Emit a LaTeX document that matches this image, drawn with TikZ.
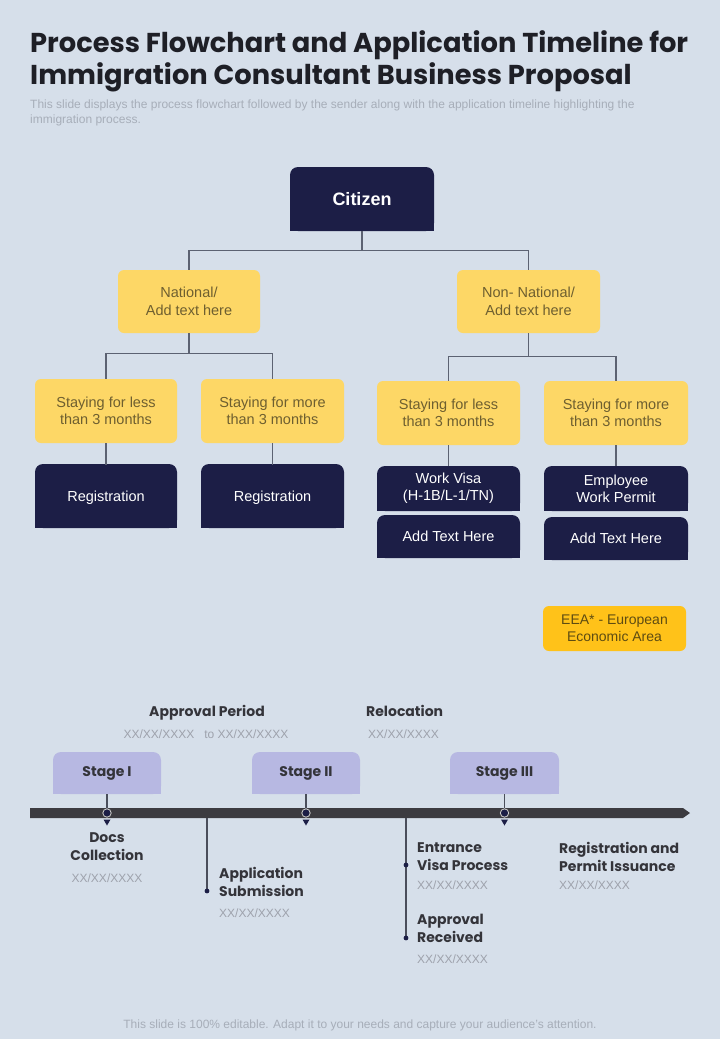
\documentclass[tikz,border=0pt]{standalone}
\usepackage{fontspec}
\setmainfont{Liberation Sans}
\newfontfamily\pop{Poppins}
\definecolor{bgc}{HTML}{D6DFEA}
\definecolor{navy}{HTML}{1C1E46}
\definecolor{yel}{HTML}{FDD766}
\definecolor{ytext}{HTML}{6E5F30}
\definecolor{eeac}{HTML}{FFC219}
\definecolor{eeatext}{HTML}{5E4C12}
\definecolor{lav}{HTML}{B7B8E2}
\definecolor{barc}{HTML}{3C3B40}
\definecolor{connc}{HTML}{5C6272}
\definecolor{titlec}{HTML}{1E1F26}
\definecolor{subc}{HTML}{A7AEB9}
\definecolor{datec}{HTML}{9EA2AC}
\definecolor{tlc}{HTML}{34343A}
\newcommand\topbox[8]{%
  \fill[#2, rounded corners=8pt] (#3,#4) rectangle (#5,#6);
  \fill[#2] (#3,{(#4+#6)/2}) rectangle (#5,#6);
  \pgfmathsetmacro\bw{#5-#3}\pgfmathsetmacro\bh{#6-#4}
  \node[#8, minimum width=\bw pt, minimum height=\bh pt, inner sep=0pt] (#1) at ({(#3+#5)/2},{(#4+#6)/2}) {#7};}
\newcommand\rbox[8]{%
  \pgfmathsetmacro\bw{#5-#3}\pgfmathsetmacro\bh{#6-#4}
  \node[#8, fill=#2, rounded corners=6pt, minimum width=\bw pt, minimum height=\bh pt, inner sep=0pt] (#1) at ({(#3+#5)/2},{(#4+#6)/2}) {#7};}
\tikzset{
  ytxt/.style={text=ytext, font=\fontsize{14.5}{17.5}\selectfont, align=center},
  etxt/.style={text=eeatext, font=\fontsize{14}{17}\selectfont, align=center},
  wtxt/.style={text=white, font=\fontsize{14.5}{17}\selectfont, align=center},
  ctxt/.style={text=white, font=\bfseries\fontsize{18}{20}\selectfont, align=center},
  stg/.style={text=tlc, font=\pop\bfseries\fontsize{14}{17}\selectfont},
  conn/.style={draw=connc, line width=1.3pt},
  tline/.style={draw=connc!80!black, line width=1.3pt},
  tl/.style={text=tlc, font=\pop\bfseries\fontsize{14}{18}\selectfont, inner sep=0pt},
  dt/.style={text=datec, font=\fontsize{12}{14}\selectfont, inner sep=0pt},
}
\begin{document}
\begin{tikzpicture}[x=1pt,y=-1pt]
\fill[bgc] (0,0) rectangle (720,1039);
\useasboundingbox (0,0) rectangle (720,1039);
% title
\node[anchor=base west, inner sep=0pt, text=titlec, font=\pop\bfseries\fontsize{27.3}{30}\selectfont] (t1) at (30,52) {Process Flowchart and Application Timeline for};
\node[anchor=base west, inner sep=0pt, text=titlec, font=\pop\bfseries\fontsize{27.3}{30}\selectfont] (t2) at (30,84) {Immigration Consultant Business Proposal};
\node[anchor=north west, inner sep=0pt, align=left, text=subc, font=\fontsize{12}{14.5}\selectfont] (sub) at (30,100) {This slide displays the process flowchart followed by the sender along with the application timeline highlighting the\\immigration process.};
% chart
\topbox{cit}{navy}{290}{167}{434}{231}{Citizen}{ctxt}
\rbox{nat}{yel}{118}{270}{260}{333}{National/\\Add text here}{ytxt}
\rbox{non}{yel}{457}{270}{600}{333}{Non- National/\\Add text here}{ytxt}
\rbox{s1}{yel}{35}{379}{177}{443}{Staying for less\\than 3 months}{ytxt}
\rbox{s2}{yel}{201}{379}{344}{443}{Staying for more\\than 3 months}{ytxt}
\rbox{s3}{yel}{377}{381}{520}{445}{Staying for less\\than 3 months}{ytxt}
\rbox{s4}{yel}{544}{381}{688}{445}{Staying for more\\than 3 months}{ytxt}
\topbox{r1}{navy}{35}{464}{177}{528}{Registration}{wtxt, yshift=-1.5pt}
\topbox{r2}{navy}{201}{464}{344}{528}{Registration}{wtxt, yshift=-1.5pt}
\topbox{wv}{navy}{377}{466}{520}{511}{Work Visa\\(H-1B/L-1/TN)}{wtxt}
\topbox{a1}{navy}{377}{515}{520}{558}{Add Text Here}{wtxt}
\topbox{ew}{navy}{544}{466}{688}{511}{Employee\\Work Permit}{wtxt}
\topbox{a2}{navy}{544}{517}{688}{560}{Add Text Here}{wtxt}
\rbox{eea}{eeac}{543}{606}{686}{651}{EEA* - European\\Economic Area}{etxt}
\draw[conn] (cit.south) -- ++(0,19) coordinate (j1);
\draw[conn] (j1) -| (nat.north);
\draw[conn] (j1) -| (non.north);
\draw[conn] (nat.south) -- ++(0,20) coordinate (j2);
\draw[conn] (j2) -| (s1.north);
\draw[conn] (j2) -| (s2.north);
\draw[conn] (non.south) -- ++(0,23) coordinate (j3);
\draw[conn] (j3) -| (s3.north);
\draw[conn] (j3) -| (s4.north);
\draw[conn] (s1.south) -- (r1.north);
\draw[conn] (s2.south) -- (r2.north);
\draw[conn] (s3.south) -- (wv.north);
\draw[conn] (s4.south) -- (ew.north);
% timeline
\node[tl, anchor=north] (ap) at (207,705) {Approval Period};
\node[dt, anchor=base] (apd) at (206,738) {XX/XX/XXXX~~~to XX/XX/XXXX};
\node[tl, anchor=north west] (rel) at (366,705) {Relocation};
\node[dt, anchor=base west] (reld) at (368,738) {XX/XX/XXXX};
\topbox{st1}{lav}{53}{752}{161}{794}{Stage I}{stg}
\topbox{st2}{lav}{252}{752}{360}{794}{Stage II}{stg}
\topbox{st3}{lav}{450}{752}{559}{794}{Stage III}{stg}
\fill[barc] (30,808) -- (683,808) -- (690,813) -- (683,818) -- (30,818) -- cycle;
\coordinate (m1) at (107,813);
\coordinate (m2) at (306,813);
\coordinate (m3) at (504.5,813);
\foreach \m/\s in {m1/st1,m2/st2,m3/st3}{
  \draw[tline] (\s.south) -- (\m);
  \fill[navy] (\m) circle (3.6);
  \draw[gray!40, line width=0.8pt] (\m) circle (4.2);
  \fill[navy] ([shift={(-3.5,6.5)}]\m) -- ([shift={(3.5,6.5)}]\m) -- ([shift={(0,12.5)}]\m) -- cycle;
}
\coordinate (v1t) at (207,818);
\coordinate (v1d) at (207,891);
\coordinate (v2t) at (406,818);
\coordinate (v2a) at (406,865);
\coordinate (v2b) at (406,938);
\draw[tline] (v1t) -- (v1d);
\draw[tline] (v2t) -- (v2b);
\fill[navy] (v1d) circle (2.4);
\fill[navy] (v2a) circle (2.4);
\fill[navy] (v2b) circle (2.4);
\node[tl, align=center, anchor=north] (dc) at (107,832) {Docs\\Collection};
\node[dt, anchor=base] (dcd) at (107,882) {XX/XX/XXXX};
\node[tl, align=left, anchor=north west] (as) at (219,867) {Application\\Submission};
\node[dt, anchor=base west] (asd) at (219,917) {XX/XX/XXXX};
\node[tl, align=left, anchor=north west] (ev) at (417,842) {Entrance\\Visa Process};
\node[dt, anchor=base west] (evd) at (417,889) {XX/XX/XXXX};
\node[tl, align=left, anchor=north west] (ar) at (417,914) {Approval\\Received};
\node[dt, anchor=base west] (ard) at (417,963) {XX/XX/XXXX};
\node[tl, align=left, anchor=north west] (rp) at (559,842) {Registration and\\Permit Issuance};
\node[dt, anchor=base west] (rpd) at (559,889) {XX/XX/XXXX};
% footer
\node[anchor=base, inner sep=0pt, text=subc, font=\fontsize{12}{13}\selectfont] (foot) at (360,1028) {This slide is 100\% editable. Adapt it to your needs and capture your audience's attention.};
\end{tikzpicture}
\end{document}
